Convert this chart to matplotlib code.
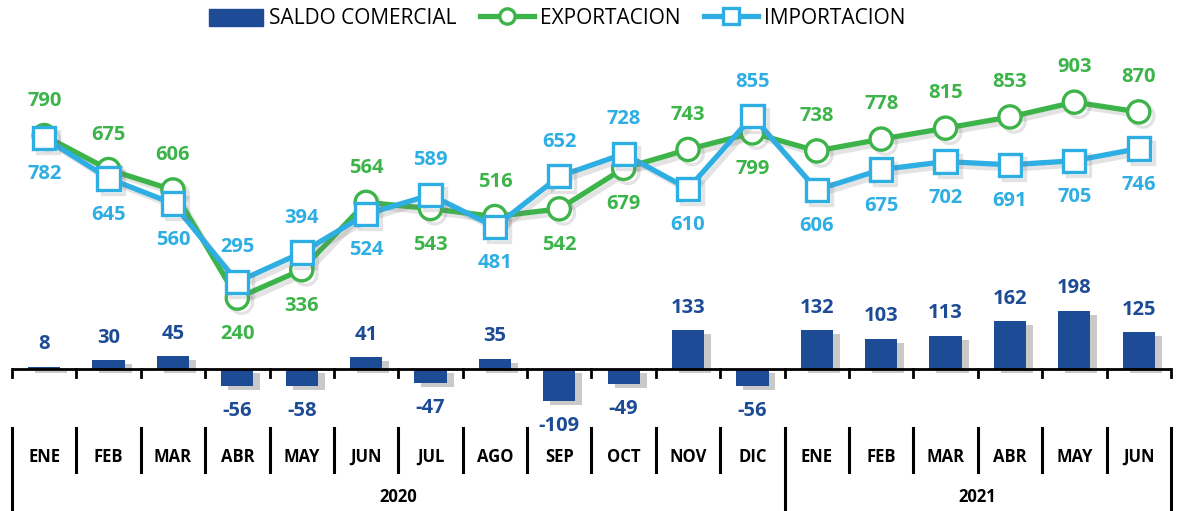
import matplotlib.pyplot as plt
import matplotlib.transforms as mtransforms
import matplotlib.patheffects as pe
from matplotlib.lines import Line2D
from matplotlib.patches import Patch
import numpy as np

plt.rcParams['font.family'] = ['Open Sans', 'DejaVu Sans']

months = ['ENE', 'FEB', 'MAR', 'ABR', 'MAY', 'JUN', 'JUL', 'AGO', 'SEP', 'OCT', 'NOV', 'DIC',
          'ENE', 'FEB', 'MAR', 'ABR', 'MAY', 'JUN']
years = ['2020', '2021']
year_counts = [12, 6]

exportacion = [790, 675, 606, 240, 336, 564, 543, 516, 542, 679, 743, 799, 738, 778, 815, 853, 903, 870]
importacion = [782, 645, 560, 295, 394, 524, 589, 481, 652, 728, 610, 855, 606, 675, 702, 691, 705, 746]
saldo = [8, 30, 45, -56, -58, 41, -47, 35, -109, -49, 133, -56, 132, 103, 113, 162, 198, 125]

c_bar = '#1d4b95'
c_exp = '#3cb44a'
c_imp = '#2eaee3'

fig = plt.figure(figsize=(11.78, 5.11), dpi=100)
ax = fig.add_axes([0.0102, 0.2084, 0.9838, 0.7056])
x = np.arange(len(months))

# ---------- bars ----------
bar_shadow = [pe.SimplePatchShadow(offset=(5, -3), shadow_rgbFace='#666666', alpha=0.35), pe.Normal()]
bars = ax.bar(x, saldo, width=0.5, color=c_bar, zorder=2)
for b in bars:
    b.set_path_effects(bar_shadow)
for xi, v in zip(x, saldo):
    off = 16 if v >= 0 else -18
    ax.annotate(str(v), (xi, v), xytext=(0, off), textcoords='offset points',
                ha='center', va='center', fontsize=14.5, fontweight='bold', color=c_bar)

# ---------- lines ----------
line_shadow = [pe.SimpleLineShadow(offset=(3, -3), shadow_color='#777777', alpha=0.2), pe.Normal()]
ax.plot(x, exportacion, color=c_exp, lw=3.8, marker='o', ms=16, mfc='white', mec=c_exp,
        mew=2.4, zorder=4, path_effects=line_shadow)
ax.plot(x, importacion, color=c_imp, lw=3.8, marker='s', ms=16, mfc='white', mec=c_imp,
        mew=2.4, zorder=5, path_effects=line_shadow)

for xi, e, i in zip(x, exportacion, importacion):
    up = e >= i
    ax.annotate(str(e), (xi, e), xytext=(0, 25 if up else -26), textcoords='offset points',
                ha='center', va='center', fontsize=14.5, fontweight='bold', color=c_exp)
    ax.annotate(str(i), (xi, i), xytext=(0, -26 if up else 25), textcoords='offset points',
                ha='center', va='center', fontsize=14.5, fontweight='bold', color=c_imp)

ax.set_xlim(-0.5, len(months) - 0.5)
ax.set_ylim(-120, 1100)
ax.axis('off')
ax.axhline(0, color='black', lw=2, zorder=3)

# ---------- category table ----------
trans = mtransforms.blended_transform_factory(ax.transData, fig.transFigure)
zero_fig = fig.transFigure.inverted().transform(ax.transData.transform((0, 0)))[1]
bounds = np.arange(len(months) + 1) - 0.5
year_bounds = np.concatenate([[0], np.cumsum(year_counts)]) - 0.5
for bx in bounds:
    ax.add_line(Line2D([bx, bx], [zero_fig, zero_fig - 0.016], transform=trans,
                       color='black', lw=2, clip_on=False))
    full = np.any(np.isclose(year_bounds, bx))
    ax.add_line(Line2D([bx, bx], [0.1624, 0.0 if full else 0.0763], transform=trans,
                       color='black', lw=2.2, clip_on=False))
for xi, m in zip(x, months):
    ax.text(xi, 0.1057, m, transform=trans, ha='center', va='center',
            fontsize=12, fontweight='bold', color='black')
for k, y in enumerate(years):
    xc = (year_bounds[k] + year_bounds[k + 1]) / 2
    ax.text(xc, 0.0274, y, transform=trans, ha='center', va='center',
            fontsize=12, fontweight='bold', color='black')

# ---------- legend ----------
handles = [Patch(color=c_bar),
           Line2D([], [], color=c_exp, lw=3.8, marker='o', ms=11, mfc='white', mec=c_exp, mew=2.4),
           Line2D([], [], color=c_imp, lw=3.8, marker='s', ms=11, mfc='white', mec=c_imp, mew=2.4)]
fig.legend(handles, ['SALDO COMERCIAL', 'EXPORTACION', 'IMPORTACION'], loc='center',
           bbox_to_anchor=(0.473, 0.963), ncol=3, frameon=False, fontsize=15,
           handlelength=2.6, handleheight=0.9, columnspacing=1.1, handletextpad=0.3)

fig.savefig('out.png', dpi=100)
